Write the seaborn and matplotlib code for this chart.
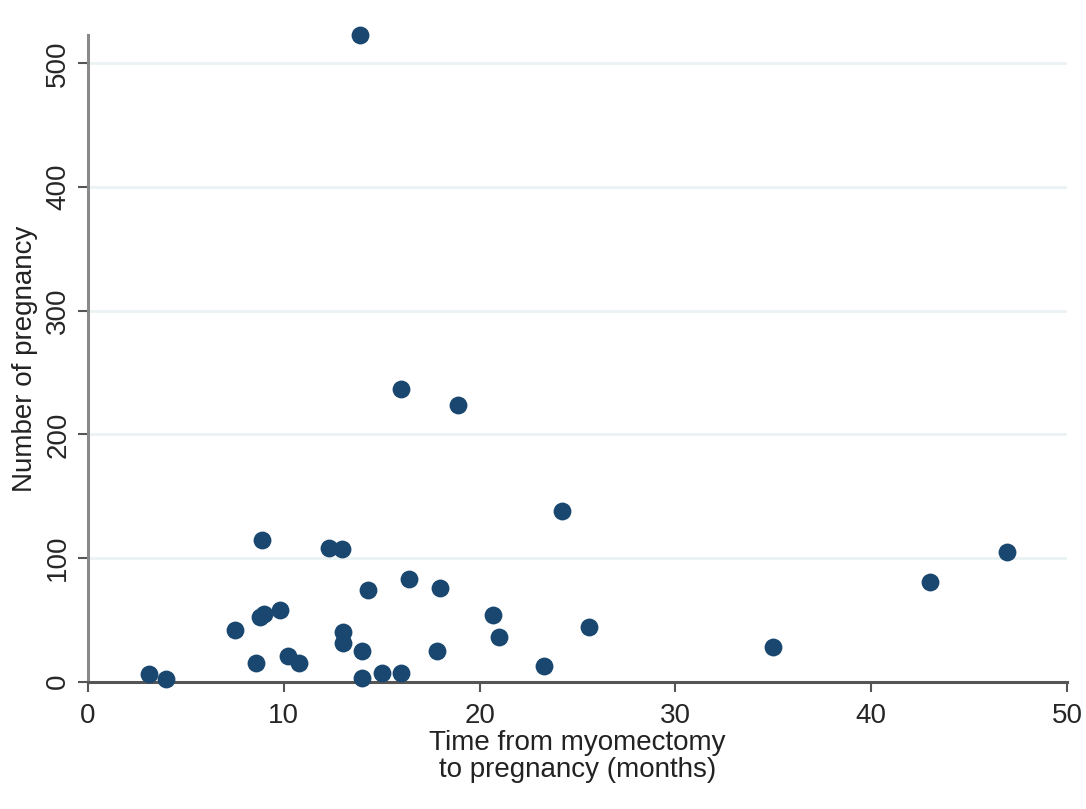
import matplotlib
matplotlib.use("Agg")
import matplotlib.pyplot as plt
import seaborn as sns
import pandas as pd

# months from myomectomy to pregnancy, number of pregnancy
months = [3.1, 4.0, 7.5, 8.6, 8.8, 9.0, 8.9, 9.8, 10.2, 10.8, 12.3, 12.95,
          13.0, 13.0, 13.87, 14.0, 14.0, 14.3, 15.0, 15.98, 16.0, 16.4,
          17.8, 18.0, 18.88, 20.7, 21.0, 23.3, 24.2, 25.6, 35.0, 43.0, 46.95]
pregnancies = [6, 2, 42, 15, 52, 55, 115, 58, 21, 15, 108, 107,
               40, 31, 523, 25, 3, 74, 7, 237, 7, 83,
               25, 76, 224, 54, 36, 13, 138, 44, 28, 81, 105]

df = pd.DataFrame({"months": months, "pregnancies": pregnancies})

sns.set_style("white")
plt.rcParams["font.family"] = ["Liberation Sans", "DejaVu Sans"]

fig = plt.figure(figsize=(10.86, 8.09), dpi=100)
ax = fig.add_axes([0.08103, 0.15735, 0.90147, 0.79939])

sns.scatterplot(data=df, x="months", y="pregnancies", ax=ax, s=165,
                color="#1a476f", edgecolor="#1a476f", linewidth=0,
                clip_on=False, zorder=5)

ax.set_xlim(0, 50)
ax.set_ylim(0, 523)
ax.set_xticks([0, 10, 20, 30, 40, 50])
ax.set_yticks([0, 100, 200, 300, 400, 500])

for v in [100, 200, 300, 400, 500]:
    ax.axhline(v, color="#eaf2f3", lw=2, zorder=0)

for s in ["top", "right"]:
    ax.spines[s].set_visible(False)
ax.spines["left"].set_color("#8a8a8a")
ax.spines["left"].set_linewidth(2.2)
ax.spines["bottom"].set_color("#555555")
ax.spines["bottom"].set_linewidth(2.2)

ax.tick_params(axis="x", direction="out", length=7, width=1.5, color="#555555",
               labelsize=20, pad=8, bottom=True)
ax.tick_params(axis="y", direction="out", length=7, width=1.5, color="#555555",
               labelsize=20, pad=5, left=True)
for lab in ax.get_yticklabels():
    lab.set_rotation(90)
    lab.set_va("center")

ax.set_xlabel("Time from myomectomy\nto pregnancy (months)", fontsize=20,
              linespacing=1.05, labelpad=1, color="#222222")
ax.set_ylabel("Number of pregnancy", fontsize=20, labelpad=5, color="#222222")

fig.savefig("out.png", dpi=100)
